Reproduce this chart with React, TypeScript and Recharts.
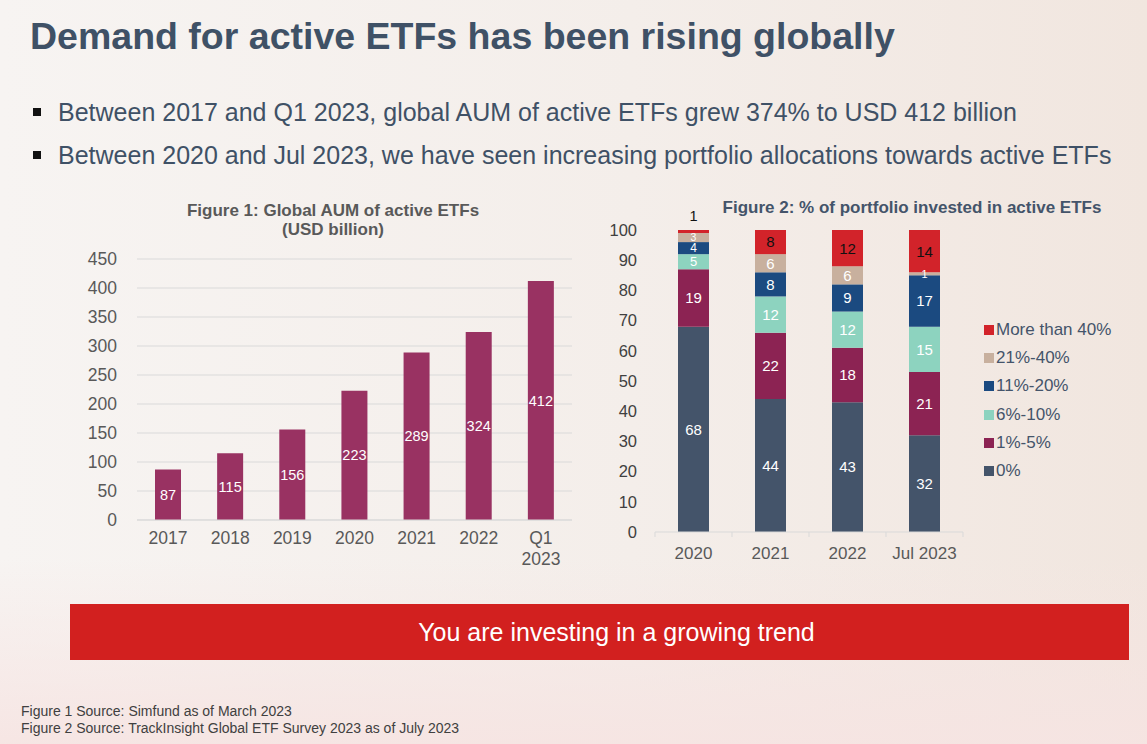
import React from "react";
import { BarChart, Bar, XAxis, YAxis, CartesianGrid, LabelList } from "recharts";

const FONT = "'Liberation Sans', Arial, sans-serif";

// Figure 1 data
const aumYears = ["2017", "2018", "2019", "2020", "2021", "2022", "Q1 2023"];
const aumValues = [87, 115, 156, 223, 289, 324, 412];
const aumTicks = [0, 50, 100, 150, 200, 250, 300, 350, 400, 450];

// Figure 2 data
const surveyYears = ["2020", "2021", "2022", "Jul 2023"];
const pct0 = [68, 44, 43, 32];
const pct1to5 = [19, 22, 18, 21];
const pct6to10 = [5, 12, 12, 15];
const pct11to20 = [4, 8, 9, 17];
const pct21to40 = [3, 6, 6, 1];
const pctOver40 = [1, 8, 12, 14];
const pctTicks = [0, 10, 20, 30, 40, 50, 60, 70, 80, 90, 100];

const series = [
  { key: "p0", name: "0%", values: pct0, color: "#44546a", text: "#ffffff" },
  { key: "p1", name: "1%-5%", values: pct1to5, color: "#8c2353", text: "#ffffff" },
  { key: "p6", name: "6%-10%", values: pct6to10, color: "#8dd3bf", text: "#ffffff" },
  { key: "p11", name: "11%-20%", values: pct11to20, color: "#1b4a80", text: "#ffffff" },
  { key: "p21", name: "21%-40%", values: pct21to40, color: "#c8b09e", text: "#ffffff" },
  { key: "p40", name: "More than 40%", values: pctOver40, color: "#d2232a", text: "#111111" },
];

const aumData = aumYears.map((y, i) => ({ year: y, value: aumValues[i] }));
const surveyData = surveyYears.map((y, i) => {
  const row: any = { year: y };
  series.forEach((s) => (row[s.key] = s.values[i]));
  return row;
});

const AumTick = (props: any) => {
  const { x, y, payload } = props;
  const parts = String(payload.value).split(" ");
  return (
    <text x={x} y={y} textAnchor="middle" fill="#595959" fontSize={17.5} fontFamily={FONT}>
      {parts.map((p: string, i: number) => (
        <tspan key={i} x={x} dy={i === 0 ? "0.71em" : "1.2em"}>
          {p}
        </tspan>
      ))}
    </text>
  );
};

const F2_WIDTH = 380;
const F2_MARGIN = { top: 35, right: 17, bottom: 13, left: 10 };
const F2_YW = 45;
const F2_BAND = (F2_WIDTH - F2_MARGIN.left - F2_MARGIN.right - F2_YW) / surveyYears.length;

const SurveyTick = (props: any) => {
  const { x, y, payload, index } = props;
  const axisY = y - 15;
  return (
    <g>
      <line x1={x - F2_BAND / 2} x2={x - F2_BAND / 2} y1={axisY} y2={axisY + 5} stroke="#d9d9d9" />
      {index === surveyYears.length - 1 && (
        <line x1={x + F2_BAND / 2} x2={x + F2_BAND / 2} y1={axisY} y2={axisY + 5} stroke="#d9d9d9" />
      )}
      <text x={x} y={y} dy="0.71em" textAnchor="middle" fill="#595959" fontSize={17} fontFamily={FONT}>
        {payload.value}
      </text>
    </g>
  );
};

const makeStackLabel = (textColor: string, isTop: boolean) => (props: any) => {
  const { x, y, width, height, value } = props;
  if (value == null) return null;
  const cx = x + width / 2;
  if (isTop && height < 8) {
    return (
      <text x={cx} y={y - 9} textAnchor="middle" fill="#111111" fontSize={14.5} fontFamily={FONT}>
        {value}
      </text>
    );
  }
  const fs = height < 8 ? 11 : height < 10 ? 10.5 : height < 14 ? 12 : height < 17 ? 13 : 15;
  return (
    <text
      x={cx}
      y={y + height / 2}
      dy="0.36em"
      textAnchor="middle"
      fill={textColor}
      fontSize={fs}
      fontFamily={FONT}
    >
      {value}
    </text>
  );
};

export default function App() {
  return (
    <div
      style={{
        position: "fixed",
        left: 0,
        top: 0,
        width: 1147,
        height: 744,
        overflow: "hidden",
        fontFamily: FONT,
        background:
          "linear-gradient(180deg, rgba(247,243,241,0) 0%, rgba(247,243,241,0) 75%, rgba(246,228,226,0.9) 100%), linear-gradient(90deg, #f7f4f2 0%, #f4eeea 55%, #f1e6df 100%)",
      }}
    >
      <div
        style={{
          position: "absolute",
          left: 30,
          top: 15,
          fontSize: 37.5,
          fontWeight: "bold",
          color: "#3f5166",
          whiteSpace: "nowrap",
        }}
      >
        Demand for active ETFs has been rising globally
      </div>
      {[
        "Between 2017 and Q1 2023, global AUM of active ETFs grew 374% to USD 412 billion",
        "Between 2020 and Jul 2023, we have seen increasing portfolio allocations towards active ETFs",
      ].map((t, i) => (
        <div key={i} style={{ position: "absolute", left: 33, top: 98 + i * 43, height: 30, whiteSpace: "nowrap" }}>
          <div
            style={{
              position: "absolute",
              left: 0,
              top: 10,
              width: 8,
              height: 8,
              background: "#111111",
            }}
          />
          <div style={{ position: "absolute", left: 25, top: 0, fontSize: 25, color: "#3f5166" }}>{t}</div>
        </div>
      ))}

      {/* Figure 1 title */}
      <div
        style={{
          position: "absolute",
          left: 133,
          width: 400,
          top: 201,
          textAlign: "center",
          fontSize: 17,
          fontWeight: "bold",
          color: "#595959",
          lineHeight: "19px",
        }}
      >
        Figure 1: Global AUM of active ETFs
        <br />
        (USD billion)
      </div>

      <div style={{ position: "absolute", left: 60, top: 240 }}>
        <BarChart
          width={530}
          height={340}
          data={aumData}
          margin={{ top: 19, right: 18, bottom: 10, left: 17 }}
        >
          <CartesianGrid vertical={false} stroke="#d9d9d9" strokeWidth={1.2} />
          <XAxis
            dataKey="year"
            axisLine={{ stroke: "#d9d9d9" }}
            tickLine={false}
            tickMargin={6}
            height={50}
            interval={0}
            tick={<AumTick />}
          />
          <YAxis
            domain={[0, 450]}
            ticks={aumTicks}
            width={60}
            axisLine={false}
            tickLine={false}
            tickMargin={14}
            interval={0}
            tick={{ fill: "#595959", fontSize: 17.5, fontFamily: FONT }}
          />
          <Bar dataKey="value" fill="#993262" barSize={26} isAnimationActive={false}>
            <LabelList
              dataKey="value"
              position="center"
              fill="#ffffff"
              fontSize={14.5}
              fontFamily={FONT}
            />
          </Bar>
        </BarChart>
      </div>

      {/* Figure 2 title */}
      <div
        style={{
          position: "absolute",
          left: 662,
          width: 500,
          top: 198,
          textAlign: "center",
          fontSize: 17,
          fontWeight: "bold",
          color: "#44546a",
          whiteSpace: "nowrap",
        }}
      >
        Figure 2: % of portfolio invested in active ETFs
      </div>

      <div style={{ position: "absolute", left: 600, top: 195 }}>
        <BarChart
          width={F2_WIDTH}
          height={390}
          data={surveyData}
          margin={F2_MARGIN}
        >
          <XAxis
            dataKey="year"
            axisLine={{ stroke: "#d9d9d9" }}
            tickLine={false}
            tickMargin={9}
            height={40}
            interval={0}
            tick={<SurveyTick />}
          />
          <YAxis
            domain={[0, 100]}
            ticks={pctTicks}
            width={F2_YW}
            axisLine={false}
            tickLine={false}
            tickMargin={12}
            interval={0}
            tick={{ fill: "#404040", fontSize: 16.5, fontFamily: FONT }}
          />
          {series.map((s, idx) => (
            <Bar
              key={s.key}
              dataKey={s.key}
              name={s.name}
              stackId="a"
              fill={s.color}
              barSize={31}
              isAnimationActive={false}
            >
              <LabelList
                dataKey={s.key}
                content={makeStackLabel(s.text, idx === series.length - 1)}
              />
            </Bar>
          ))}
        </BarChart>
      </div>

      {/* Legend */}
      <div style={{ position: "absolute", left: 984, top: 319 }}>
        {[...series].reverse().map((s, i) => (
          <div
            key={s.key}
            style={{
              position: "absolute",
              left: 0,
              top: i * 28.2,
              whiteSpace: "nowrap",
              height: 20,
            }}
          >
            <div
              style={{
                position: "absolute",
                left: 0,
                top: 6,
                width: 10,
                height: 10,
                background: s.color,
              }}
            />
            <div
              style={{
                position: "absolute",
                left: 12,
                top: 0,
                fontSize: 17,
                color: "#44546a",
                lineHeight: "21px",
              }}
            >
              {s.name}
            </div>
          </div>
        ))}
      </div>

      {/* Banner */}
      <div
        style={{
          position: "absolute",
          left: 70,
          top: 604,
          width: 1059,
          height: 56,
          background: "#d2201f",
          color: "#ffffff",
          fontSize: 25,
          display: "flex",
          alignItems: "center",
          justifyContent: "center",
          paddingLeft: 34,
          boxSizing: "border-box",
        }}
      >
        You are investing in a growing trend
      </div>

      {/* Sources */}
      <div
        style={{
          position: "absolute",
          left: 21,
          top: 703,
          fontSize: 14,
          color: "#404040",
          lineHeight: "17px",
        }}
      >
        Figure 1 Source: Simfund as of March 2023
        <br />
        Figure 2 Source: TrackInsight Global ETF Survey 2023 as of July 2023
      </div>
    </div>
  );
}
